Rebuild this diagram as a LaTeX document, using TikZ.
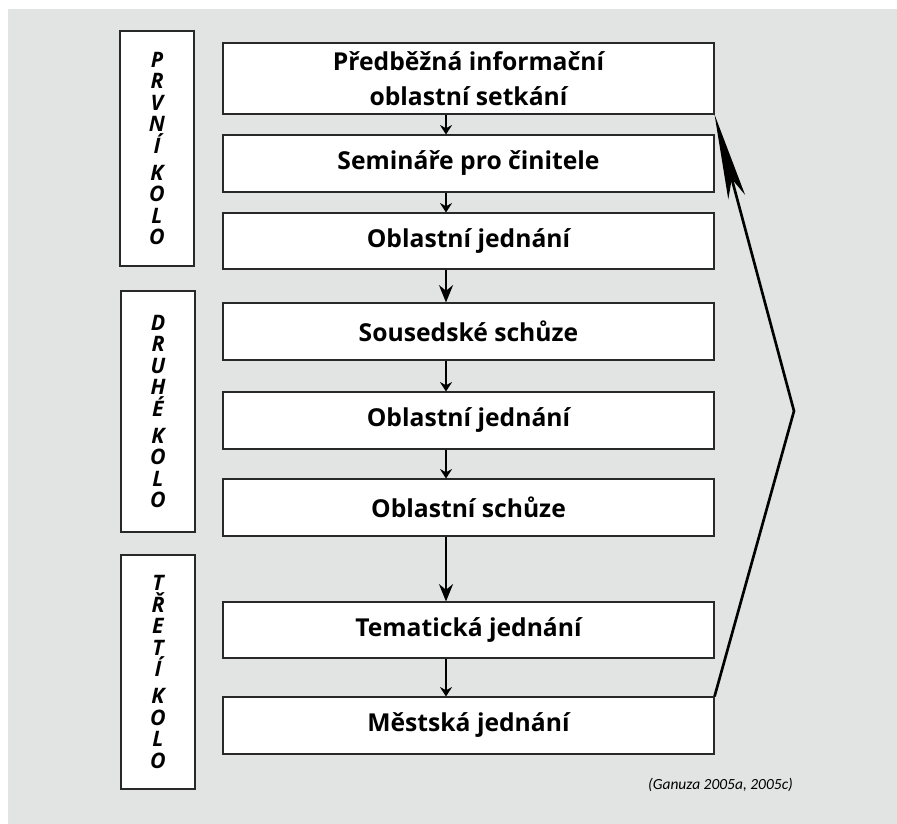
\documentclass[tikz,border=0pt]{standalone}
\usepackage{fontspec}
\setmainfont{Open Sans}
\newfontfamily\zdrojfont{Carlito}
\usetikzlibrary{arrows.meta}
\definecolor{pozadi}{RGB}{226,227,227}
\definecolor{okraj}{RGB}{40,40,40}
\tikzset{
	krok/.style={draw=okraj,line width=0.8pt,fill=white,minimum width=368.25pt,minimum height=#1*0.75pt,inner sep=0pt,align=center,font=\bfseries\fontsize{18.5}{26}\selectfont},
	kolo/.style={draw=okraj,line width=0.8pt,fill=white,minimum width=55.5pt,minimum height=#1*0.75pt,inner sep=0pt,align=center,font=\bfseries\itshape\fontsize{16}{16.1}\selectfont},
	sipka/.style={-{Stealth[length=7pt,width=9pt]},line width=1.4pt},
	dlouha/.style={-{Stealth[length=13pt,width=10.5pt]},line width=1.7pt},
	zpet/.style={-{Stealth[length=64pt,width=13pt,inset=14pt]},line width=2pt}
}

\begin{document}
\begin{tikzpicture}[x=0.75pt,y=-0.75pt]
	\useasboundingbox (0,0) rectangle (897,824);
	\fill[pozadi] (8,9) rectangle (897,824);

	% levy sloupec
	\node [kolo=235] (prvni) at (157,148.5) {P\\R\\V\\N\\Í\\[4pt]K\\O\\L\\O};
	\node [kolo=241] (druhe) at (158,411.5) {D\\R\\U\\H\\É\\[4pt]K\\O\\L\\O};
	\node [kolo=234] (treti) at (158,672) {T\\Ř\\E\\T\\Í\\[4pt]K\\O\\L\\O};

	% kroky
	\node [krok=71] (k1) at (468.5,78.5) {Předběžná informační\\oblastní setkání};
	\node [krok=57] (k2) at (468.5,163.5) {Semináře pro činitele};
	\node [krok=56] (k3) at (468.5,241) {Oblastní jednání};
	\node [krok=57] (k4) at (468.5,331.5) {Sousedské schůze};
	\node [krok=57] (k5) at (468.5,420.5) {Oblastní jednání};
	\node [krok=57] (k6) at (468.5,507.5) {Oblastní schůze};
	\node [krok=56] (k7) at (468.5,630) {Tematická jednání};
	\node [krok=57] (k8) at (468.5,725.5) {Městská jednání};

	\coordinate (osa) at (446,0);
	\draw [sipka] (k1.south -| osa) -- (k2.north -| osa);
	\draw [sipka] (k2.south -| osa) -- (k3.north -| osa);
	\draw [dlouha] (k3.south -| osa) -- (k4.north -| osa);
	\draw [sipka] (k4.south -| osa) -- (k5.north -| osa);
	\draw [sipka] (k5.south -| osa) -- (k6.north -| osa);
	\draw [dlouha] (k6.south -| osa) -- (k7.north -| osa);
	\draw [sipka] (k7.south -| osa) -- (k8.north -| osa);

	% navrat
	\coordinate (vrchol) at (794,411);
	\draw [zpet] (k8.north east) -- (vrchol) -- (k1.south east);

	\node [font=\zdrojfont\itshape\fontsize{11.6}{13}\selectfont] (zdroj) at (720.5,785) {(Ganuza 2005a, 2005c)};
\end{tikzpicture}
\end{document}
